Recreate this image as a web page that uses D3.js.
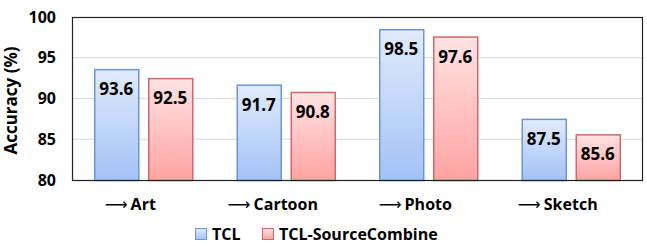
<!DOCTYPE html>
<html>
<head>
<meta charset="utf-8">
<script src="https://cdn.jsdelivr.net/npm/d3@7"></script>
<style>
  body { margin: 0; background: #fff; }
  text { font-family: 'Open Sans', 'Noto Sans', sans-serif; }
</style>
</head>
<body>
<div id="chart"></div>
<script>
const domains = ['Art', 'Cartoon', 'Photo', 'Sketch'];
const seriesNames = ['TCL', 'TCL-SourceCombine'];
const tclValues = [93.6, 91.7, 98.5, 87.5];
const combineValues = [92.5, 90.8, 97.6, 85.6];
const yTicks = [80, 85, 90, 95, 100];

const width = 647, height = 246;
const margin = { left: 72, top: 17, right: 5, bottom: 66 };
const barW = 44, barGap = 10;

const fills = [
  { id: 'gBlue', top: '#e1ebfc', bottom: '#a3c2f6', stroke: '#6d95d6' },
  { id: 'gRed', top: '#ffe3e3', bottom: '#ffa3a3', stroke: '#d2676b' }
];

const svg = d3.select('#chart').append('svg')
  .attr('width', width)
  .attr('height', height);

const defs = svg.append('defs');
fills.forEach(f => {
  const g = defs.append('linearGradient')
    .attr('id', f.id)
    .attr('x1', 0).attr('y1', 0).attr('x2', 0).attr('y2', 1);
  g.append('stop').attr('offset', '0%').attr('stop-color', f.top);
  g.append('stop').attr('offset', '100%').attr('stop-color', f.bottom);
});

const x = d3.scaleBand()
  .domain(domains)
  .range([margin.left, width - margin.right])
  .padding(0);

const y = d3.scaleLinear()
  .domain([80, 100])
  .range([height - margin.bottom, margin.top]);

// gridlines
svg.append('g')
  .selectAll('line')
  .data(yTicks.slice(1, -1))
  .join('line')
  .attr('x1', margin.left)
  .attr('x2', width - margin.right)
  .attr('y1', d => y(d))
  .attr('y2', d => y(d))
  .attr('stroke', '#d9d9d9')
  .attr('stroke-width', 1);

// y tick labels
svg.append('g')
  .selectAll('text')
  .data(yTicks)
  .join('text')
  .attr('x', margin.left - 16)
  .attr('y', d => y(d))
  .attr('dy', '0.35em')
  .attr('text-anchor', 'end')
  .style('font-size', '16px')
  .style('font-weight', 700)
  .text(d => d);

svg.append('text')
  .attr('transform', `translate(11, ${(margin.top + height - margin.bottom) / 2 + 2}) rotate(-90)`)
  .attr('text-anchor', 'middle')
  .attr('dy', '0.35em')
  .style('font-size', '17px')
  .style('font-weight', 700)
  .text('Accuracy (%)');

const series = [tclValues, combineValues];

const groups = svg.selectAll('g.grp')
  .data(domains)
  .join('g')
  .attr('class', 'grp')
  .attr('transform', d => `translate(${x(d) + x.bandwidth() / 2}, 0)`);

series.forEach((vals, si) => {
  const off = si === 0 ? -barGap / 2 - barW : barGap / 2;
  groups.append('rect')
    .attr('x', off + 0.5)
    .attr('y', (d, i) => y(vals[i]) + 0.5)
    .attr('width', barW)
    .attr('height', (d, i) => y(80) - y(vals[i]))
    .attr('fill', `url(#${fills[si].id})`)
    .attr('stroke', fills[si].stroke)
    .attr('stroke-width', 1.5);

  groups.append('text')
    .attr('x', off + barW / 2)
    .attr('y', (d, i) => y(vals[i]) + 26)
    .attr('text-anchor', 'middle')
    .style('font-size', '17px')
    .style('font-weight', 700)
    .text((d, i) => vals[i].toFixed(1));
});

// x labels
groups.append('text')
  .attr('x', -13)
  .attr('y', height - margin.bottom + 30)
  .attr('text-anchor', 'middle')
  .style('font-size', '16px')
  .style('font-weight', 700)
  .call(t => {
    t.append('tspan').style('font-weight', 400).style('font-family', 'DejaVu Sans').text('\u27F6');
    t.append('tspan').attr('dx', 3).text(d => d);
  });

// plot frame
svg.append('rect')
  .attr('x', margin.left + 0.5)
  .attr('y', margin.top + 0.5)
  .attr('width', width - margin.left - margin.right)
  .attr('height', height - margin.top - margin.bottom)
  .attr('fill', 'none')
  .attr('stroke', '#222')
  .attr('stroke-width', 1.2);

// legend
const legendX = [195, 262];
const legend = svg.append('g')
  .selectAll('g')
  .data(seriesNames)
  .join('g')
  .attr('transform', (d, i) => `translate(${legendX[i]}, 228)`);

legend.append('rect')
  .attr('x', 0.5).attr('y', 0.5)
  .attr('width', 11).attr('height', 11)
  .attr('fill', (d, i) => `url(#${fills[i].id})`)
  .attr('stroke', (d, i) => fills[i].stroke);

legend.append('text')
  .attr('x', 17)
  .attr('y', 6)
  .attr('dy', '0.35em')
  .style('font-size', '16px')
  .style('font-weight', 700)
  .text(d => d);
</script>
</body>
</html>
